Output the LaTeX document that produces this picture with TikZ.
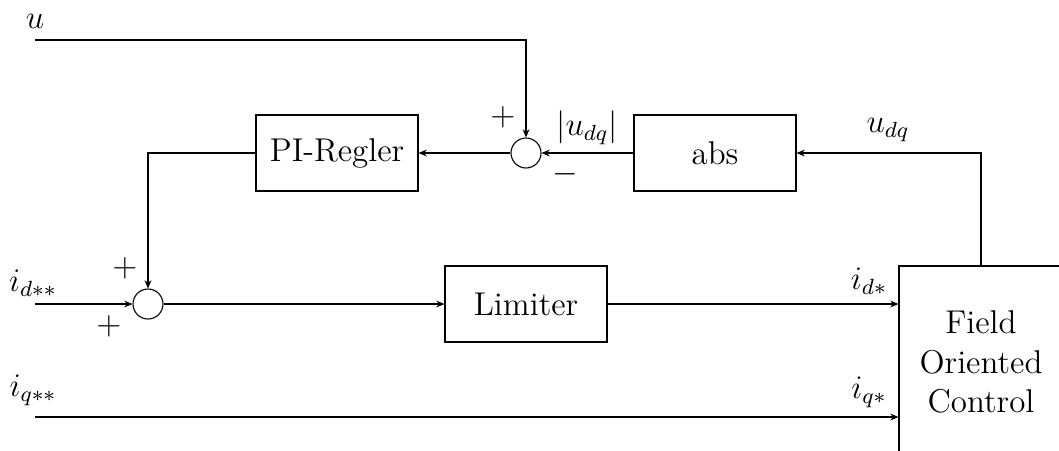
\documentclass[12pt,tikz,border=0pt]{standalone}
\usepackage{tikz}
\usetikzlibrary{positioning, arrows.meta, calc}
\tikzset{
  block/.style={draw, line width=0.4pt, align=center, minimum width=2.074cm, minimum height=0.973cm, inner sep=4pt},
  sumnode/.style={draw, circle, line width=0.4pt, minimum size=0.384cm, inner sep=0pt},
  sig/.style={-{Stealth[length=3pt, width=2.5pt]}, line width=0.4pt},
  lbl/.style={inner sep=0pt},
}
\begin{document}
\begin{tikzpicture}[x=0.0128cm, y=-0.0128cm]
  \useasboundingbox (0,0) rectangle (1059,450);
  % blocks
  \node[block] (pi) at (337,153) {PI-Regler};
  \node[block] (abs) at (715,153) {abs};
  \node[block] (lim) at (526,304) {Limiter};
  \node[block, minimum width=2.099cm, minimum height=2.458cm] (foc) at (981,362) {Field\\Oriented\\Control};
  % summing points
  \node[sumnode] (s1) at (526,153) {};
  \node[sumnode] (s2) at (148,304) {};
  % free ends of the inputs
  \coordinate (uin) at (35,40);
  \coordinate (idin) at (35,304);
  \coordinate (iqin) at (35,417);

  % signal labels
  \node[lbl] (ulbl) at (35,21) {$u$};
  \node[lbl] (udqlbl) at (888,130) {$u_{dq}$};
  \node[lbl] (absudqlbl) at (587,128) {$|u_{dq}|$};
  \node[lbl] (idsslbl) at (33,283) {$i_{d**}$};
  \node[lbl] (iqsslbl) at (33,390) {$i_{q**}$};
  \node[lbl] (idslbl) at (869,281) {$i_{d*}$};
  \node[lbl] (iqslbl) at (869,392) {$i_{q*}$};
  % signs at the summing points
  \node[lbl] (s1plus) at (503,117) {$+$};
  \node[lbl] (s1minus) at (565,174) {$-$};
  \node[lbl] (s2plusa) at (125,268) {$+$};
  \node[lbl] (s2plusb) at (109,326) {$+$};

  % connectors
  \draw[sig] (uin) -| (s1.north);
  \draw[sig] (foc.north) |- (abs.east);
  \draw[sig] (abs.west) -- (s1.east);
  \draw[sig] (s1.west) -- (pi.east);
  \draw[sig] (pi.west) -| (s2.north);
  \draw[sig] (idin) -- (s2.west);
  \draw[sig] (s2.east) -- (lim.west);
  \draw[sig] (lim.east) -- (lim.east -| foc.west);
  \draw[sig] (iqin) -- (iqin -| foc.west);
\end{tikzpicture}
\end{document}
